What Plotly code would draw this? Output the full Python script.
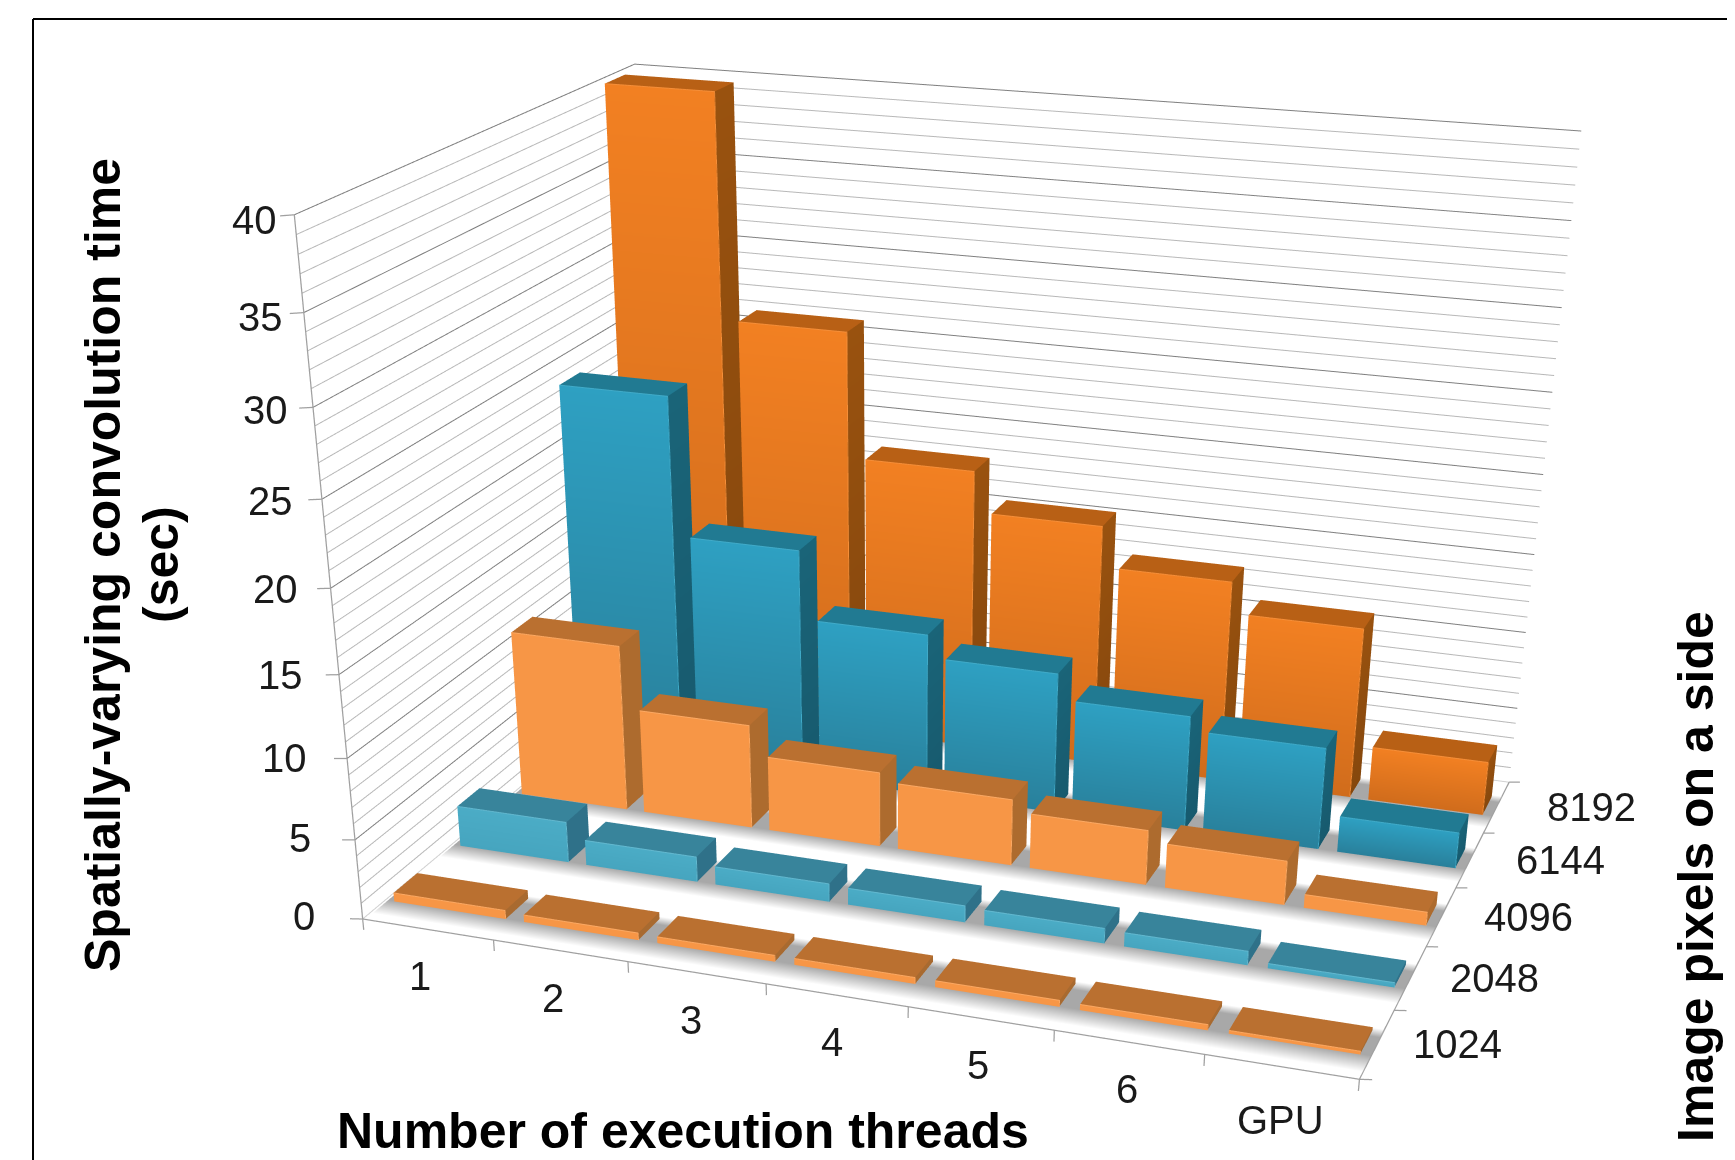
import numpy as np
import plotly.graph_objects as go

threads = ["1", "2", "3", "4", "5", "6", "GPU"]
sizes = ["1024", "2048", "4096", "6144", "8192"]
t1024 = [0.55, 0.45, 0.4, 0.4, 0.4, 0.35, 0.2]
t2048 = [2.6, 1.6, 1.15, 1.05, 0.95, 0.87, 0.3]
t4096 = [10.7, 6.7, 4.8, 4.25, 3.5, 2.8, 0.85]
t6144 = [23.7, 14.95, 10.55, 9.1, 7.45, 6.55, 2.3]
t8192 = [39.9, 26.2, 18.3, 15.7, 13.1, 11.1, 3.5]
yticks = [0, 5, 10, 15, 20, 25, 30, 35, 40]
X_RANGE, Y_RANGE, Z_RANGE = (-0.4, 7.4), (0, 5), (-2.5, 40.5)

W, H = 1766, 2600   # the visible window is the top-left 1735x1160; the taller view gives the long-lens perspective
VISIBLE_H = 1160
GAP, DGAP = 0.07, 0.325
FLAT = dict(ambient=1,diffuse=0,specular=0,fresnel=0,roughness=1)

def bars(vals, row, cf, ct, cs):
    V, C, I, J, K = [], [], [], [], []
    for i, v in enumerate(vals):
        x0, x1, y0, y1 = i+GAP, i+1-GAP, row+DGAP, row+1-DGAP
        V += [(x0,y0,0),(x1,y0,0),(x1,y0,v),(x0,y0,v), (x0,y0,v),(x1,y0,v),(x1,y1,v),(x0,y1,v), (x1,y0,0),(x1,y1,0),(x1,y1,v),(x1,y0,v)]
        C += [cf[1],cf[1],cf[0],cf[0], ct,ct,ct,ct, cs[1],cs[1],cs[0],cs[0]]
        b = 12*i
        for q in range(3):
            o = b+4*q
            I += [o,o]; J += [o+1,o+2]; K += [o+2,o+3]
    V = np.array(V)
    return go.Mesh3d(x=V[:,0],y=V[:,1],z=V[:,2],i=I,j=J,k=K,vertexcolor=C,hoverinfo="skip",lighting=FLAT,showscale=False)

def shadow(row):
    ys = [row+DGAP-0.22, row+DGAP+0.01, row+1-DGAP-0.08, row+1-DGAP+0.04]
    cols = ["#FFFFFF","#A8A8A8","#A8A8A8","#FFFFFF"]
    xv, yv, C = [], [], []
    for yy, c in zip(ys, cols):
        xv += [0.02, 7.0]; yv += [yy, yy]; C += [c, c]
    I, J, K = [], [], []
    for q in range(3):
        o = 2*q
        I += [o,o+1]; J += [o+1,o+3]; K += [o+2,o+2]
    return go.Mesh3d(x=xv,y=yv,z=[0]*len(xv),i=I,j=J,k=K,vertexcolor=C,hoverinfo="skip",lighting=FLAT,showscale=False)

def seg(xs,ys,zs,color,width):
    fig.add_trace(go.Scatter3d(x=xs,y=ys,z=zs,mode="lines",line=dict(color=color,width=width),hoverinfo="skip",showlegend=False))

def highlight(vals, row, color):
    xs,ys,zs=[],[],[]
    for i,v in enumerate(vals):
        x0,x1,y0=i+GAP,i+1-GAP,row+DGAP
        xs+=[x0,x1,x1,None];ys+=[y0,y0,y0,None];zs+=[v,v,0,None]
    seg(xs,ys,zs,color,2)

fig = go.Figure()
LO = ("#F79646","#F79646")
styles = [(t1024,0,LO,"#BA7030",("#A86A30","#A86A30"),"#FBA862"),
 (t2048,1,("#4BACC6","#46A5BF"),"#38849B",("#2F7189","#2F7189"),"#62B8CF"),
 (t4096,2,LO,"#BA7030",("#AD6B2E","#AD6B2E"),"#FBA862"),
 (t6144,3,("#2EA0C2","#29809B"),"#217A92",("#1A6478","#175A6E"),"#40AAC8"),
 (t8192,4,("#F28022","#D06C1C"),"#B86015",("#99520F","#85470D"),"#F58E38")]
for k in range(5):
    fig.add_trace(shadow(k))
for v,r_,cf,ct,cs,hl in styles:
    fig.add_trace(bars(v,r_,cf,ct,cs))
for v,r_,cf,ct,cs,hl in styles:
    highlight(v,r_,hl)

minor = [z for z in range(1,40) if z%5]
def grid(levels,color,width):
    xs,ys,zs=[],[],[]
    for z in levels:
        xs+=[0,0,7,None];ys+=[0,5,5,None];zs+=[z,z,z,None]
    seg(xs,ys,zs,color,width)
grid(minor,"#B8B8B8",2)
grid(yticks[1:],"#808080",2)
grid([0],"#D0D0D0",2)
ax="#A0A0A0"
seg([0,0],[0,0],[0,40],ax,2.5)
seg([0,7,7],[0,0,5],[0,0,0],ax,2.5)
xs,ys,zs=[],[],[]
for i in range(8):
    xs+=[i,i,None];ys+=[0,0,None];zs+=[0,-0.7,None]
for k in range(6):
    xs+=[7,7.08,None];ys+=[k,k,None];zs+=[0,0.1,None]
for z in yticks:
    xs+=[0,-0.1,None];ys+=[0,0,None];zs+=[z,z-0.12,None]
seg(xs,ys,zs,ax,2.5)

font=dict(family="Liberation Sans",size=40,color="#1a1a1a")
ann=[]
for i,t in enumerate(threads):
    ann.append(dict(x=i+0.5,y=0,z=0,text=t,showarrow=False,font=font,xshift=-8+1.2*i,yshift=-47-(6 if t=="GPU" else 0)))
for k,s in enumerate(sizes):
    ann.append(dict(x=7,y=k+0.5,z=0,text=s,showarrow=False,font=font,xanchor="left",xshift=34+3.5*k))
for z in yticks:
    ann.append(dict(x=0,y=0,z=z,text=str(z),showarrow=False,font=font,xanchor="right",xshift=-46+31*z/40,yshift=3-8*z/40))

fig.update_layout(width=W,height=H,margin=dict(l=0,r=0,t=0,b=0),paper_bgcolor="white",showlegend=False,
  scene=dict(domain=dict(x=[0,1],y=[0,1]),aspectmode="manual",aspectratio=dict(x=1.5414,y=1.0154,z=1),
    camera=dict(eye=dict(x=1.3187,y=-3.9491,z=1.3664),center=dict(x=0.0889,y=-0.5457,z=-0.8800),up=dict(x=0,y=0,z=1),projection=dict(type="perspective")),
    xaxis=dict(visible=False,range=list(X_RANGE)),yaxis=dict(visible=False,range=list(Y_RANGE)),zaxis=dict(visible=False,range=list(Z_RANGE)),annotations=ann))
bold=dict(family="Liberation Sans",size=50,color="black")
def label(x,y,t,rot=0):
    fig.add_annotation(x=x/W,y=1-y/H,xref="paper",yref="paper",xanchor="center",yanchor="middle",text="<b>"+t+"</b>",showarrow=False,font=bold,textangle=rot)
label(675,1123,"Number of execution threads")
label(95,557,"Spatially-varying convolution time",-90)
label(153,557,"(sec)",-90)
label(1688,869,"Image pixels on a side",-90)
fig.add_shape(type="line",xref="paper",yref="paper",x0=25/W,x1=25/W,y0=1-11/H,y1=1-VISIBLE_H/H,line=dict(color="black",width=2))
fig.add_shape(type="line",xref="paper",yref="paper",x0=25/W,x1=1,y0=1-11/H,y1=1-11/H,line=dict(color="black",width=2))
fig.write_html("out.html")
